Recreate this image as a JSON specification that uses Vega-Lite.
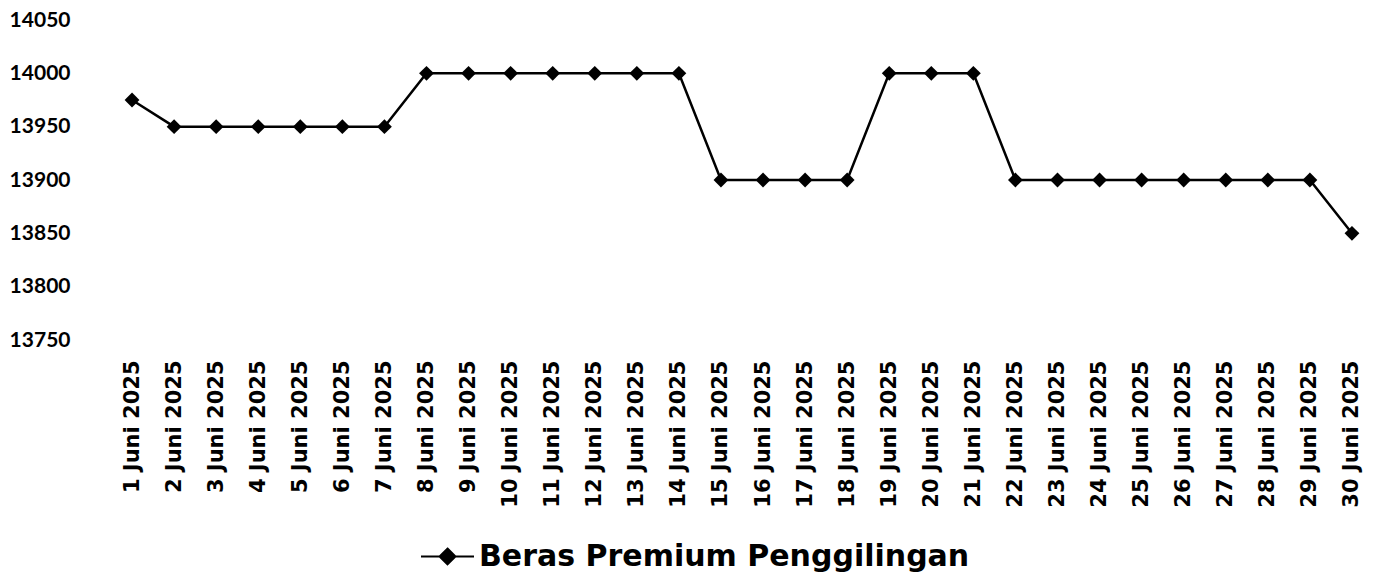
{
  "$schema": "https://vega.github.io/schema/vega-lite/v6.json",
  "autosize": {"type": "none"},
  "width": 1262,
  "height": 320,
  "padding": {"left": 111, "top": 20, "right": 9, "bottom": 244},
  "background": "white",
  "config": {"view": {"stroke": null}, "font": "Lato"},
  "data": {"values": [
    {"tanggal": "1 Juni 2025", "harga": 13975, "seri": "Beras Premium Penggilingan"},
    {"tanggal": "2 Juni 2025", "harga": 13950, "seri": "Beras Premium Penggilingan"},
    {"tanggal": "3 Juni 2025", "harga": 13950, "seri": "Beras Premium Penggilingan"},
    {"tanggal": "4 Juni 2025", "harga": 13950, "seri": "Beras Premium Penggilingan"},
    {"tanggal": "5 Juni 2025", "harga": 13950, "seri": "Beras Premium Penggilingan"},
    {"tanggal": "6 Juni 2025", "harga": 13950, "seri": "Beras Premium Penggilingan"},
    {"tanggal": "7 Juni 2025", "harga": 13950, "seri": "Beras Premium Penggilingan"},
    {"tanggal": "8 Juni 2025", "harga": 14000, "seri": "Beras Premium Penggilingan"},
    {"tanggal": "9 Juni 2025", "harga": 14000, "seri": "Beras Premium Penggilingan"},
    {"tanggal": "10 Juni 2025", "harga": 14000, "seri": "Beras Premium Penggilingan"},
    {"tanggal": "11 Juni 2025", "harga": 14000, "seri": "Beras Premium Penggilingan"},
    {"tanggal": "12 Juni 2025", "harga": 14000, "seri": "Beras Premium Penggilingan"},
    {"tanggal": "13 Juni 2025", "harga": 14000, "seri": "Beras Premium Penggilingan"},
    {"tanggal": "14 Juni 2025", "harga": 14000, "seri": "Beras Premium Penggilingan"},
    {"tanggal": "15 Juni 2025", "harga": 13900, "seri": "Beras Premium Penggilingan"},
    {"tanggal": "16 Juni 2025", "harga": 13900, "seri": "Beras Premium Penggilingan"},
    {"tanggal": "17 Juni 2025", "harga": 13900, "seri": "Beras Premium Penggilingan"},
    {"tanggal": "18 Juni 2025", "harga": 13900, "seri": "Beras Premium Penggilingan"},
    {"tanggal": "19 Juni 2025", "harga": 14000, "seri": "Beras Premium Penggilingan"},
    {"tanggal": "20 Juni 2025", "harga": 14000, "seri": "Beras Premium Penggilingan"},
    {"tanggal": "21 Juni 2025", "harga": 14000, "seri": "Beras Premium Penggilingan"},
    {"tanggal": "22 Juni 2025", "harga": 13900, "seri": "Beras Premium Penggilingan"},
    {"tanggal": "23 Juni 2025", "harga": 13900, "seri": "Beras Premium Penggilingan"},
    {"tanggal": "24 Juni 2025", "harga": 13900, "seri": "Beras Premium Penggilingan"},
    {"tanggal": "25 Juni 2025", "harga": 13900, "seri": "Beras Premium Penggilingan"},
    {"tanggal": "26 Juni 2025", "harga": 13900, "seri": "Beras Premium Penggilingan"},
    {"tanggal": "27 Juni 2025", "harga": 13900, "seri": "Beras Premium Penggilingan"},
    {"tanggal": "28 Juni 2025", "harga": 13900, "seri": "Beras Premium Penggilingan"},
    {"tanggal": "29 Juni 2025", "harga": 13900, "seri": "Beras Premium Penggilingan"},
    {"tanggal": "30 Juni 2025", "harga": 13850, "seri": "Beras Premium Penggilingan"}
  ]},
  "mark": {"type": "line", "strokeWidth": 2.5, "point": {"shape": "diamond", "size": 220, "filled": true}},
  "encoding": {
    "x": {
      "field": "tanggal", "type": "ordinal", "sort": null,
      "scale": {"type": "point", "padding": 0.5},
      "axis": {"title": null, "labelAngle": -90, "labelFont": "DejaVu Sans", "labelFontSize": 21, "labelFontWeight": "bold", "labelColor": "black", "labelPadding": 20, "ticks": false, "domain": false, "grid": false}
    },
    "y": {
      "field": "harga", "type": "quantitative",
      "scale": {"domain": [13750, 14050], "zero": false, "nice": false},
      "axis": {"title": null, "values": [13750, 13800, 13850, 13900, 13950, 14000, 14050], "format": "d", "labelFontSize": 21, "labelFontWeight": "bold", "labelColor": "black", "labelPadding": 41, "ticks": false, "domain": false, "grid": false}
    },
    "color": {
      "field": "seri", "type": "nominal",
      "scale": {"range": ["black"]},
      "legend": {
        "title": null, "orient": "none", "legendX": 309, "legendY": 509,
        "symbolType": "M-1,0H1M0,-0.3L0.3,0L0,0.3L-0.3,0Z",
        "symbolSize": 2809, "symbolStrokeWidth": 2, "symbolFillColor": "black", "symbolStrokeColor": "black",
        "labelFont": "DejaVu Sans", "labelFontSize": 30, "labelFontWeight": "bold", "labelColor": "black", "labelOffset": 4, "labelLimit": 1000
      }
    }
  }
}
